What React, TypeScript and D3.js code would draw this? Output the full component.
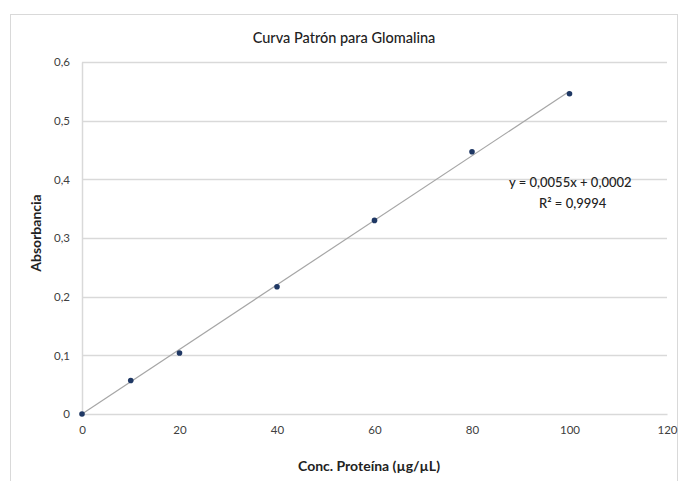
import { useEffect, useRef } from 'react';
import * as d3 from 'd3';

const concentrations = [0, 10, 20, 40, 60, 80, 100];
const absorbances = [0, 0.057, 0.104, 0.217, 0.33, 0.447, 0.546];
const xTicks = [0, 20, 40, 60, 80, 100, 120];
const yTicks = [0, 0.1, 0.2, 0.3, 0.4, 0.5, 0.6];
const slope = 0.0055;
const intercept = 0.0002;
const equationLabel = 'y = 0,0055x + 0,0002';
const r2Label = 'R² = 0,9994';

const W = 682;
const H = 481;
const FONT = 'Lato, "Open Sans", sans-serif';

export default function App() {
  const svgRef = useRef<SVGSVGElement>(null);

  useEffect(() => {
    if (!svgRef.current) return;
    const svg = d3.select(svgRef.current);
    svg.selectAll('*').remove();

    const margin = { top: 62, right: 15, bottom: 67, left: 82 };
    const width = W - margin.left - margin.right;
    const height = H - margin.top - margin.bottom;

    // Chart frame
    svg
      .append('rect')
      .attr('x', 10.5)
      .attr('y', 14.5)
      .attr('width', 667)
      .attr('height', 480)
      .attr('fill', '#fff')
      .attr('stroke', '#d9d9d9');

    const g = svg.append('g').attr('transform', `translate(${margin.left},${margin.top})`);

    const x = d3.scaleLinear().domain([0, 120]).range([0, width]);
    const y = d3.scaleLinear().domain([0, 0.6]).range([height, 0]);

    // Grid lines
    g.append('g')
      .selectAll('line')
      .data(yTicks.slice(1))
      .join('line')
      .attr('x1', 0)
      .attr('x2', width)
      .attr('y1', (d) => Math.round(y(d)) + 0.5)
      .attr('y2', (d) => Math.round(y(d)) + 0.5)
      .attr('stroke', '#d9d9d9')
      .attr('stroke-width', 1.5);

    // Axes
    const xAxisG = g
      .append('g')
      .attr('transform', `translate(0,${height})`)
      .call(d3.axisBottom(x).tickValues(xTicks).tickSize(0).tickPadding(12).tickFormat((d) => String(d)));
    xAxisG.select('.domain').attr('stroke', '#d9d9d9').attr('stroke-width', 1.5);
    xAxisG.selectAll('text').attr('fill', '#404040').attr('font-size', '11.5px').attr('font-family', FONT);

    const yAxisG = g
      .append('g')
      .call(
        d3
          .axisLeft(y)
          .tickValues(yTicks)
          .tickSize(0)
          .tickPadding(12)
          .tickFormat((d) => (d === 0 ? '0' : d3.format('.1f')(d as number).replace('.', ','))),
      );
    yAxisG.select('.domain').attr('stroke', '#d9d9d9').attr('stroke-width', 1.5);
    yAxisG.selectAll('text').attr('fill', '#404040').attr('font-size', '11.5px').attr('font-family', FONT);

    // Trend line
    g.append('line')
      .attr('x1', x(0))
      .attr('y1', y(intercept))
      .attr('x2', x(100))
      .attr('y2', y(slope * 100 + intercept))
      .attr('stroke', '#a6a6a6')
      .attr('stroke-width', 1.2);

    // Points
    g.append('g')
      .selectAll('circle')
      .data(concentrations.map((c, i) => [c, absorbances[i]] as [number, number]))
      .join('circle')
      .attr('cx', (d) => x(d[0]))
      .attr('cy', (d) => y(d[1]))
      .attr('r', 2.8)
      .attr('fill', '#1f3864');

    // Equation
    g.append('text')
      .attr('x', 509 - margin.left)
      .attr('y', 187 - margin.top)
      .attr('fill', '#222')
      .attr('font-size', '13px')
      .attr('font-weight', 500)
      .attr('font-family', FONT)
      .text(equationLabel);
    g.append('text')
      .attr('x', 539 - margin.left)
      .attr('y', 208 - margin.top)
      .attr('fill', '#222')
      .attr('font-size', '13px')
      .attr('font-weight', 500)
      .attr('font-family', FONT)
      .text(r2Label);

    // Title
    svg
      .append('text')
      .attr('x', 344)
      .attr('y', 43)
      .attr('text-anchor', 'middle')
      .attr('fill', '#222')
      .attr('font-size', '14.5px')
      .attr('font-weight', 500)
      .attr('font-family', FONT)
      .text('Curva Patrón para Glomalina');

    // Axis titles
    svg
      .append('text')
      .attr('x', 369)
      .attr('y', 471)
      .attr('text-anchor', 'middle')
      .attr('fill', '#222')
      .attr('font-size', '14px')
      .attr('font-weight', 'bold')
      .attr('font-family', FONT)
      .text('Conc. Proteína (µg/µL)');

    svg
      .append('text')
      .attr('transform', `translate(41,${margin.top + height / 2 - 5}) rotate(-90)`)
      .attr('text-anchor', 'middle')
      .attr('fill', '#222')
      .attr('font-size', '14px')
      .attr('font-weight', 'bold')
      .attr('font-family', FONT)
      .text('Absorbancia');
  }, []);

  return (
    <div style={{ position: 'absolute', left: 0, top: 0 }}>
      <svg ref={svgRef} width={W} height={H} style={{ display: 'block' }} />
    </div>
  );
}
